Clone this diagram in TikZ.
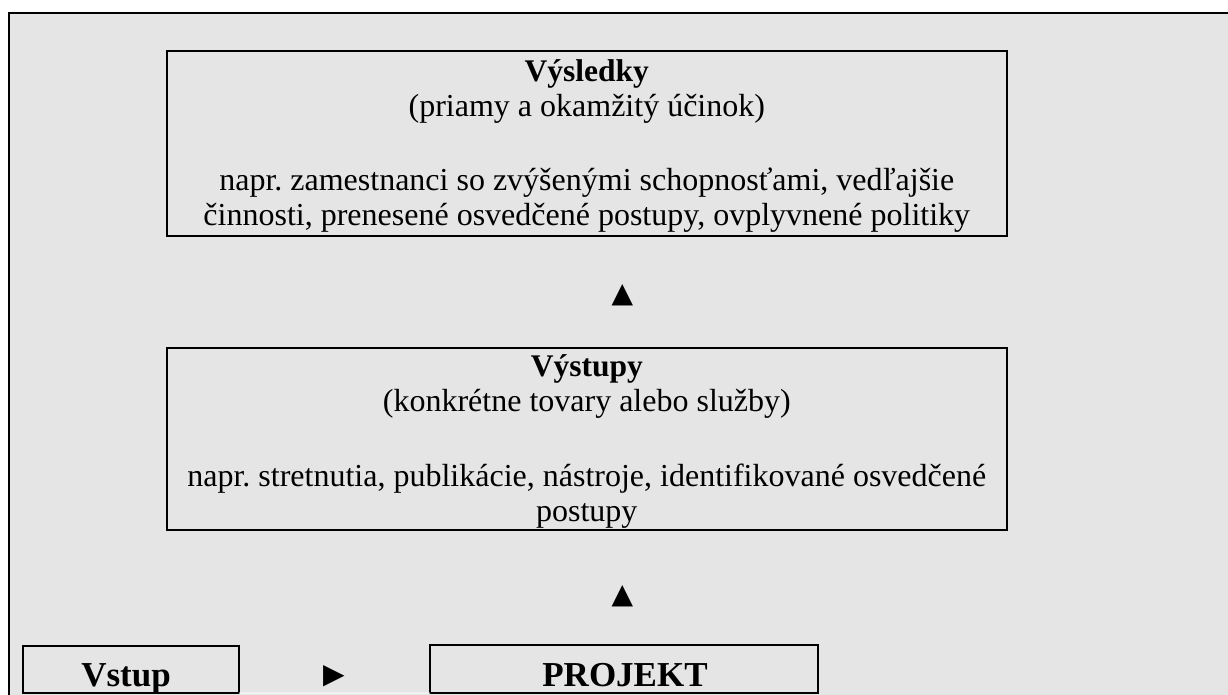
\documentclass[tikz,border=0pt]{standalone}
\usepackage{fontspec}
\setmainfont{Liberation Serif}
\newfontfamily\symfont{DejaVu Sans}
\definecolor{bgfill}{HTML}{E5E5E5}
\frenchspacing
\begin{document}
\begin{tikzpicture}[x=1pt,y=-1pt,
  box/.style={draw=black, line width=2pt, inner sep=0pt, outer sep=0pt, anchor=north west},
  txt/.style={anchor=base, inner sep=0pt, font=\fontsize{32}{36}\selectfont},
  ttl/.style={anchor=base, inner sep=0pt, font=\fontsize{31.5}{36}\selectfont\bfseries},
  bot/.style={anchor=base, inner sep=0pt, font=\fontsize{35}{40}\selectfont\bfseries},
  tri/.style={anchor=base, inner sep=0pt, font=\symfont\fontsize{28}{30}\selectfont}
]
\useasboundingbox (0,0) rectangle (1228,695);
\fill[white] (0,0) rectangle (1228,695);
\fill[bgfill] (9,13) rectangle (1228,695);
\draw[line width=2.5pt] (9,695) -- (9,13) -- (1228,13);

% boxes
\node[box, minimum width=840.5pt, minimum height=185pt] (res) at (166.5,51) {};
\node[box, minimum width=840.3pt, minimum height=182.3pt] (out) at (166.7,347.7) {};
\node[box, minimum width=216pt, minimum height=47.3pt] (inp) at (23,645.7) {};
\node[box, minimum width=388pt, minimum height=48pt] (proj) at (430,645) {};
\draw[white, line width=1pt] (inp.south east) -- (proj.south west);

% texts of top box
\node[ttl] (t1) at (586.8,81.7) {Výsledky};
\node[txt] (t2) at (586.8,116.7) {(priamy a okamžitý účinok)};
\node[txt] (t3) at (586.8,191) {napr. zamestnanci so zvýšenými schopnosťami, vedľajšie};
\node[txt] (t4) at (586.8,225) {činnosti, prenesené osvedčené postupy, ovplyvnené politiky};

% texts of middle box
\node[ttl] (s1) at (586.8,376.7) {Výstupy};
\node[txt] (s2) at (586.8,411.7) {(konkrétne tovary alebo služby)};
\node[txt] (s3) at (586.8,486.7) {napr. stretnutia, publikácie, nástroje, identifikované osvedčené};
\node[txt] (s4) at (586.8,521) {postupy};

% bottom texts
\node[bot] (v) at (126,686) {Vstup};
\node[bot] (p) at (625,686) {PROJEKT};

% markers
\node[tri] (a1) at (622.5,302) {▲};
\node[tri] (a2) at (622.5,603) {▲};
\node[tri] (a3) at (334,683) {▶};
\end{tikzpicture}
\end{document}
